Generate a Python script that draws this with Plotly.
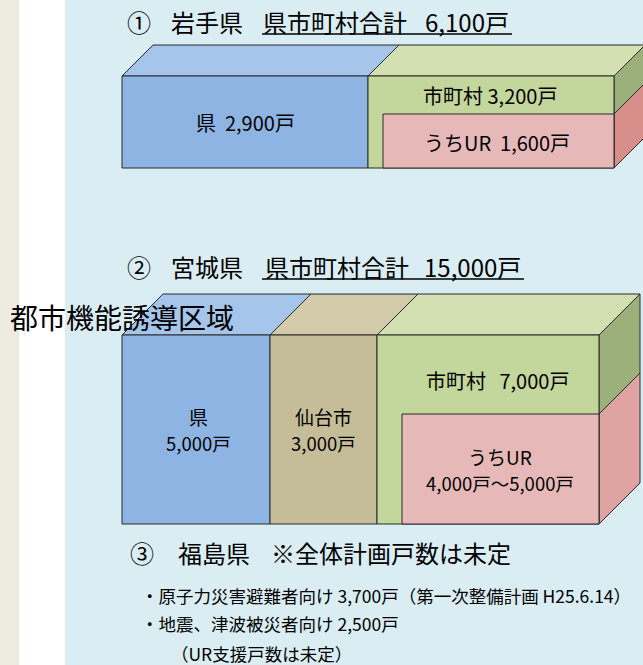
import plotly.graph_objects as go

# ---- data (values shown in the diagram) ----
iwate_title = ["①", "岩手県", "県市町村合計", "6,100戸"]
iwate_labels = ["県  2,900戸", "市町村 3,200戸", "うちUR  1,600戸"]
miyagi_title = ["②", "宮城県", "県市町村合計", "15,000戸"]
miyagi_labels = ["県", "5,000戸", "仙台市", "3,000戸", "市町村   7,000戸", "うちUR", "4,000戸～5,000戸"]
fukushima_title = ["③", "福島県", "※全体計画戸数は未定"]
fukushima_notes = ["・原子力災害避難者向け 3,700戸（第一次整備計画 H25.6.14）",
                   "・地震、津波被災者向け 2,500戸",
                   "（UR支援戸数は未定）"]
overlay_label = "都市機能誘導区域"

# ---- geometry / styles ----
W, H = 643, 665
FONT = "Noto Sans CJK JP"
BLUE, BLUE_T = "#8EB4E3", "#A6C5EA"
TAN, TAN_T = "#C4BD97", "#D1CBAA"
GREEN, GREEN_T, GREEN_S = "#C3D69B", "#D2E0B2", "#9CB07B"
PINK, PINK_S, PINK_S2 = "#E6B9B8", "#D88E8B", "#DFA3A2"
EDGE = "#2b2b2b"

shapes = []
def poly(pts, fill, lw=1):
    path = "M " + " L ".join(f"{x},{y}" for x, y in pts) + " Z"
    shapes.append(dict(type="path", xref="x", yref="y", path=path,
                       fillcolor=fill, line=dict(color=EDGE, width=lw), layer="above"))
def rect(x0, y0, x1, y1, fill, lw=1):
    shapes.append(dict(type="rect", xref="x", yref="y", x0=x0, y0=y0, x1=x1, y1=y1,
                       fillcolor=fill, line=dict(color=EDGE, width=lw), layer="above"))

# page background bands
shapes.append(dict(type="rect", xref="x", yref="y", x0=0, y0=0, x1=19, y1=H,
                   fillcolor="#EEECE1", line=dict(width=0), layer="below"))
shapes.append(dict(type="rect", xref="x", yref="y", x0=19, y0=0, x1=65, y1=H,
                   fillcolor="#FFFFFF", line=dict(width=0), layer="below"))

# ---- Iwate box ----
d = 31
poly([(122, 76), (122 + d, 76 - d), (368 + d, 76 - d), (368, 76)], BLUE_T)
poly([(368, 76), (368 + d, 76 - d), (614 + d, 76 - d), (614, 76)], GREEN_T)
poly([(614, 76), (614 + d, 76 - d), (614 + d, 114 - d), (614, 114)], GREEN_S)
poly([(614, 114), (614 + d, 114 - d), (614 + d, 168 - d), (614, 168)], PINK_S)
rect(122, 76, 368, 168, BLUE)
rect(368, 76, 614, 168, GREEN)
rect(383, 114, 614, 168, PINK)

# ---- Miyagi box ----
d = 41
poly([(122, 335), (122 + d, 335 - d), (270 + d, 335 - d), (270, 335)], BLUE_T)
poly([(270, 335), (270 + d, 335 - d), (377 + d, 335 - d), (377, 335)], TAN_T)
poly([(377, 335), (377 + d, 335 - d), (599 + d, 335 - d), (599, 335)], GREEN_T)
poly([(599, 335), (599 + d, 335 - d), (599 + d, 414 - d), (599, 414)], GREEN_S)
poly([(599, 414), (599 + d, 414 - d), (599 + d, 524 - d), (599, 524)], PINK_S2)
rect(122, 335, 270, 524, BLUE)
rect(270, 335, 377, 524, TAN)
rect(377, 335, 599, 524, GREEN)
rect(402, 414, 599, 524, PINK)

# underlines
shapes.append(dict(type="line", xref="x", yref="y", x0=262, y0=34, x1=512, y1=34,
                   line=dict(color="#000", width=1.5), layer="above"))
shapes.append(dict(type="line", xref="x", yref="y", x0=262, y0=279, x1=524, y1=279,
                   line=dict(color="#000", width=1.5), layer="above"))

ann = []
def txt(x, y, s, size, anchor="center"):
    ann.append(dict(x=x, y=y, xref="x", yref="y", text=s, showarrow=False,
                    xanchor=anchor, yanchor="middle", align="center", borderpad=0,
                    font=dict(family=FONT, size=size, color="#000")))

# titles (centred on the reference positions)
for xc, s in zip([139, 207, 335, 467], iwate_title):
    txt(xc, 21, s, 24)
for xc, s in zip([139, 207, 337, 472], miyagi_title):
    txt(xc, 266, s, 24)
for xc, s in zip([142, 214, 391], fukushima_title):
    txt(xc, 552, s, 24)

# Iwate labels
txt(245, 122, iwate_labels[0], 20)
txt(490, 95, iwate_labels[1], 20)
txt(497, 142, iwate_labels[2], 20)

# Miyagi labels
txt(198, 416, miyagi_labels[0], 19)
txt(198, 443, miyagi_labels[1], 18.5)
txt(323, 416, miyagi_labels[2], 19)
txt(323, 443, miyagi_labels[3], 18.5)
txt(497, 380, miyagi_labels[4], 20)
txt(500, 456, miyagi_labels[5], 19)
txt(500, 483, miyagi_labels[6], 18.5)

# Fukushima notes
txt(140, 595, fukushima_notes[0], 17.5, "left")
txt(140, 623, fukushima_notes[1], 17.5, "left")
txt(170, 653, fukushima_notes[2], 17.5, "left")

# overlay label
txt(9, 317, overlay_label, 28, "left")

fig = go.Figure()
fig.update_layout(
    width=W, height=H, margin=dict(l=0, r=0, t=0, b=0),
    paper_bgcolor="#DAEDF3", plot_bgcolor="#DAEDF3",
    xaxis=dict(range=[0, W], visible=False, fixedrange=True),
    yaxis=dict(range=[H, 0], visible=False, fixedrange=True),
    shapes=shapes, annotations=ann, showlegend=False,
)
fig.write_html("out.html", config={"displayModeBar": False},
               post_script="document.body.style.margin='0';document.body.style.overflow='hidden';")
